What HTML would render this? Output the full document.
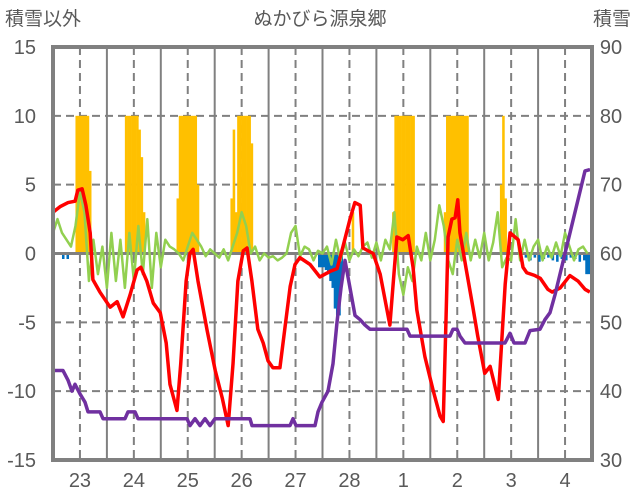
<!DOCTYPE html>
<html><head><meta charset="utf-8">
<style>
body{margin:0;background:#fff;}
svg{display:block;font-family:"Liberation Sans","Noto Sans CJK JP",sans-serif;}
</style></head>
<body>
<svg id="chart" width="636" height="501" viewBox="0 0 636 501">
<text x="5" y="25" font-size="19" fill="#595959">積雪以外</text>
<text x="320" y="25" font-size="19" fill="#595959" text-anchor="middle">ぬかびら源泉郷</text>
<text x="631" y="25" font-size="19" fill="#595959" text-anchor="end">積雪</text>
</svg>
<script>
const dayLabels=["23","24","25","26","27","28","1","2","3","4"];
const leftTicks=[15,10,5,0,-5,-10,-15];
const rightTicks=[90,80,70,60,50,40,30];
// red series: time (days) and value
const redT=[0,.13,.28,.41,.46,.54,.61,.69,.74,.87,1.06,1.19,1.30,1.43,1.56,1.63,1.74,1.86,1.99,2.10,2.17,2.30,2.37,2.47,2.54,2.60,2.69,2.86,3.01,3.14,3.25,3.34,3.43,3.53,3.60,3.69,3.80,3.90,3.99,4.08,4.21,4.30,4.40,4.49,4.58,4.77,4.95,5.14,5.27,5.38,5.51,5.60,5.70,5.75,5.94,6.07,6.25,6.38,6.49,6.59,6.68,6.75,6.90,7.05,7.18,7.24,7.29,7.33,7.40,7.46,7.51,7.55,7.66,7.79,7.88,8.01,8.11,8.26,8.39,8.48,8.63,8.72,8.79,8.94,9.04,9.18,9.26,9.41,9.59,9.74,9.87,9.96];
const redV=[3.0,3.4,3.7,3.8,4.6,4.7,3.5,1.5,-1.9,-2.8,-3.9,-3.5,-4.6,-3,-1.2,-1.0,-2,-3.6,-4.3,-6.5,-9.5,-11.4,-8,-2,0,0.3,-2,-5.6,-8.5,-10.5,-12.5,-8,-2,0.2,0.4,-2,-5.5,-6.5,-7.8,-8.3,-8.3,-5.5,-2.4,-0.8,-0.3,-0.8,-1.7,-1.3,-1.1,0.5,2.5,3.7,3.5,0.4,0,-1.5,-5.2,1.2,1.0,1.3,-1,-4.1,-7.5,-9.9,-11.8,-12.2,-5,1.2,2.5,2.6,3.9,1.5,-1,-3.9,-6,-8.7,-8.2,-10.6,-2.2,1.5,1.0,-1,-1.4,-1.6,-1.8,-2.6,-2.8,-2.5,-1.6,-2.0,-2.6,-2.8];
// purple series (snow depth, right axis)
const snowX=[53,63,68,72,75,80,85,88,100,103,125,128,135,138,187,190,195,200,205,210,215,250,252,290,293,296,315,318,322,328,333,337,341,345,350,355,360,365,370,407,410,450,453,457,460,465,505,510,514,525,530,540,545,550,555,560,565,570,575,580,585,590];
const snowV=[43,43,41.6,40,41,39.6,38.4,37,37,36,36,37,37,36,36,35,36,35,36,35,36,36,35,35,36,35,35,37,38.4,40,44,50,55,59,55,51,50.4,49.6,49,49,48,48,49,49,48,47,47,48.4,47,47,48.8,49,50.4,51.4,54,57,60,63,66,69,72,72.2];
// green series, one value per 2 hours
const greenV=[1.5,2.5,1.5,1,0.5,2,4.5,3,-2,1,-1.5,0.5,
-2.5,1.5,-2,1,-2.5,1.5,-2,2,-1.5,2.5,-2.5,1.5,
-1,1,0.5,0.3,0,-0.5,0.5,1.5,1,0.5,-0.2,0.3,
0,-0.3,0.3,-0.5,0.5,1.5,3,2,0,0.5,-0.5,0,
-0.3,-0.2,-0.5,-0.3,0,1.5,2,-0.2,0.5,0.3,-0.5,0.2,
0,0.5,-0.8,1,-0.5,0.8,-0.5,0.3,-0.2,0.5,0.8,-0.3,
0.8,-0.5,1,0.3,3,-1.5,-3,-1,-2,0.5,-0.5,1.5,
-0.5,1,3.5,2,-0.5,-1.5,1,-0.5,1.5,-0.5,1,-0.3,
1.5,-0.5,0.8,3,-1,-0.3,-0.5,2.5,-0.5,1,-0.5,0.5,
1,-0.5,0.5,-0.3,0.8,-0.2,1.5,0.5,-0.5,0.3,0.5,0];
// orange hourly bars: hour index and value
const sunH=[10,11,12,13,14,15,16, 32,33,34,35,36,37,38,39,40, 55,56,57,58,59,60,61,62,63,64, 79,80,81,82,83,84,85,86,87,88, 133, 151,152,153,154,155,156,157,158,159,160, 174,175,176,177,178,179,180,181,182,183,184, 199,200,201];
const sunV=[10,10,10,10,10,10,6, 10,10,10,10,10,10,9,7,3, 4,10,10,10,10,10,10,10,10,5, 4,9,3,10,10,10,10,10,10,8, 3, 3,10,10,10,10,10,10,10,10,10, 3,10,10,10,10,10,10,10,10,10,10, 5,10,4];
// blue hourly bars
const blueH=[4,6,118,119,120,121,122,123,124,125,126,127,128,210,212,214,216,218,220,222,224,226,228,230,232,234,236,237,238];
const blueV=[-0.4,-0.4,-1,-1,-1,-1.2,-1.5,-2,-2.5,-4,-4.5,-4.5,-2,-0.3,-0.5,-0.3,-0.6,-0.4,-0.3,-0.5,-0.6,-0.4,-0.5,-0.3,-0.4,-0.6,-0.5,-1.5,-1.5];

const NS="http://www.w3.org/2000/svg";
const svg=document.getElementById('chart');
const L=53,R=592,T=47,B=460;
const xDay=d=>L+d*(R-L)/10;
const xHour=h=>xDay(h/24);
const yL=v=>T+(15-v)*(B-T)/30;
const yR=v=>T+(90-v)*(B-T)/60;
function mk(tag,attrs,parent){const e=document.createElementNS(NS,tag);for(const k in attrs)e.setAttribute(k,attrs[k]);(parent||svg).appendChild(e);return e;}

const grid=mk('g',{});


leftTicks.forEach(v=>{
  if(v===15||v===-15||v===0)return;
  const l=mk('line',{x1:L,x2:R,y1:yL(v),y2:yL(v),stroke:'#808080','stroke-width':2,'stroke-dasharray':'8,5'},grid);
  
  
});
for(let d=0;d<10;d++){
  const n=mk('line',{x1:xDay(d+0.5),x2:xDay(d+0.5),y1:T,y2:B,stroke:'#808080','stroke-width':2,'stroke-dasharray':'8,5'},grid);
  
  
  if(d>0){
    const m=mk('line',{x1:xDay(d),x2:xDay(d),y1:T,y2:B,stroke:'#808080','stroke-width':2},grid);
    
    
  }
}

const bw=(R-L)/240;
const sunG=mk('g',{fill:'#FFC000'});


sunH.forEach((h,i)=>{
  const r=mk('rect',{x:xHour(h),y:yL(sunV[i]),width:bw+0.3,height:yL(0)-yL(sunV[i])},sunG);
  
  
});
const blueG=mk('g',{fill:'#0070C0'});


blueH.forEach((h,i)=>{
  const r=mk('rect',{x:xHour(h),y:yL(0),width:bw+0.3,height:yL(blueV[i])-yL(0)},blueG);
  
  
});

const zl=mk('line',{x1:L,x2:R,y1:yL(0),y2:yL(0),stroke:'#808080','stroke-width':3});



const gp=mk('polyline',{fill:'none',stroke:'#92D050','stroke-width':2.5,'stroke-linejoin':'round',points:greenV.map((v,i)=>xHour(i*2)+','+yL(v)).join(' ')});


const rp=mk('polyline',{fill:'none',stroke:'#FF0000','stroke-width':3.5,'stroke-linejoin':'round',points:redT.map((t,i)=>xDay(t)+','+yL(redV[i])).join(' ')});


const pp=mk('polyline',{fill:'none',stroke:'#7030A0','stroke-width':3.5,'stroke-linejoin':'round',points:snowX.map((x,i)=>x+','+yR(snowV[i])).join(' ')});



const fr=mk('rect',{x:L,y:T,width:R-L,height:B-T,fill:'none',stroke:'#808080','stroke-width':4});



leftTicks.forEach(v=>{
  const t=mk('text',{x:36,y:yL(v)+7,'font-size':20,fill:'#595959','text-anchor':'end'});
  t.textContent=v;
  
  
});
rightTicks.forEach(v=>{
  const t=mk('text',{x:611,y:yR(v)+7,'font-size':20,fill:'#595959','text-anchor':'middle'});
  t.textContent=v;
  
  
});
dayLabels.forEach((d,i)=>{
  const t=mk('text',{x:xDay(i+0.5),y:487,'font-size':20,fill:'#595959','text-anchor':'middle'});
  t.textContent=d;
  
  
});
</script>
</body></html>
